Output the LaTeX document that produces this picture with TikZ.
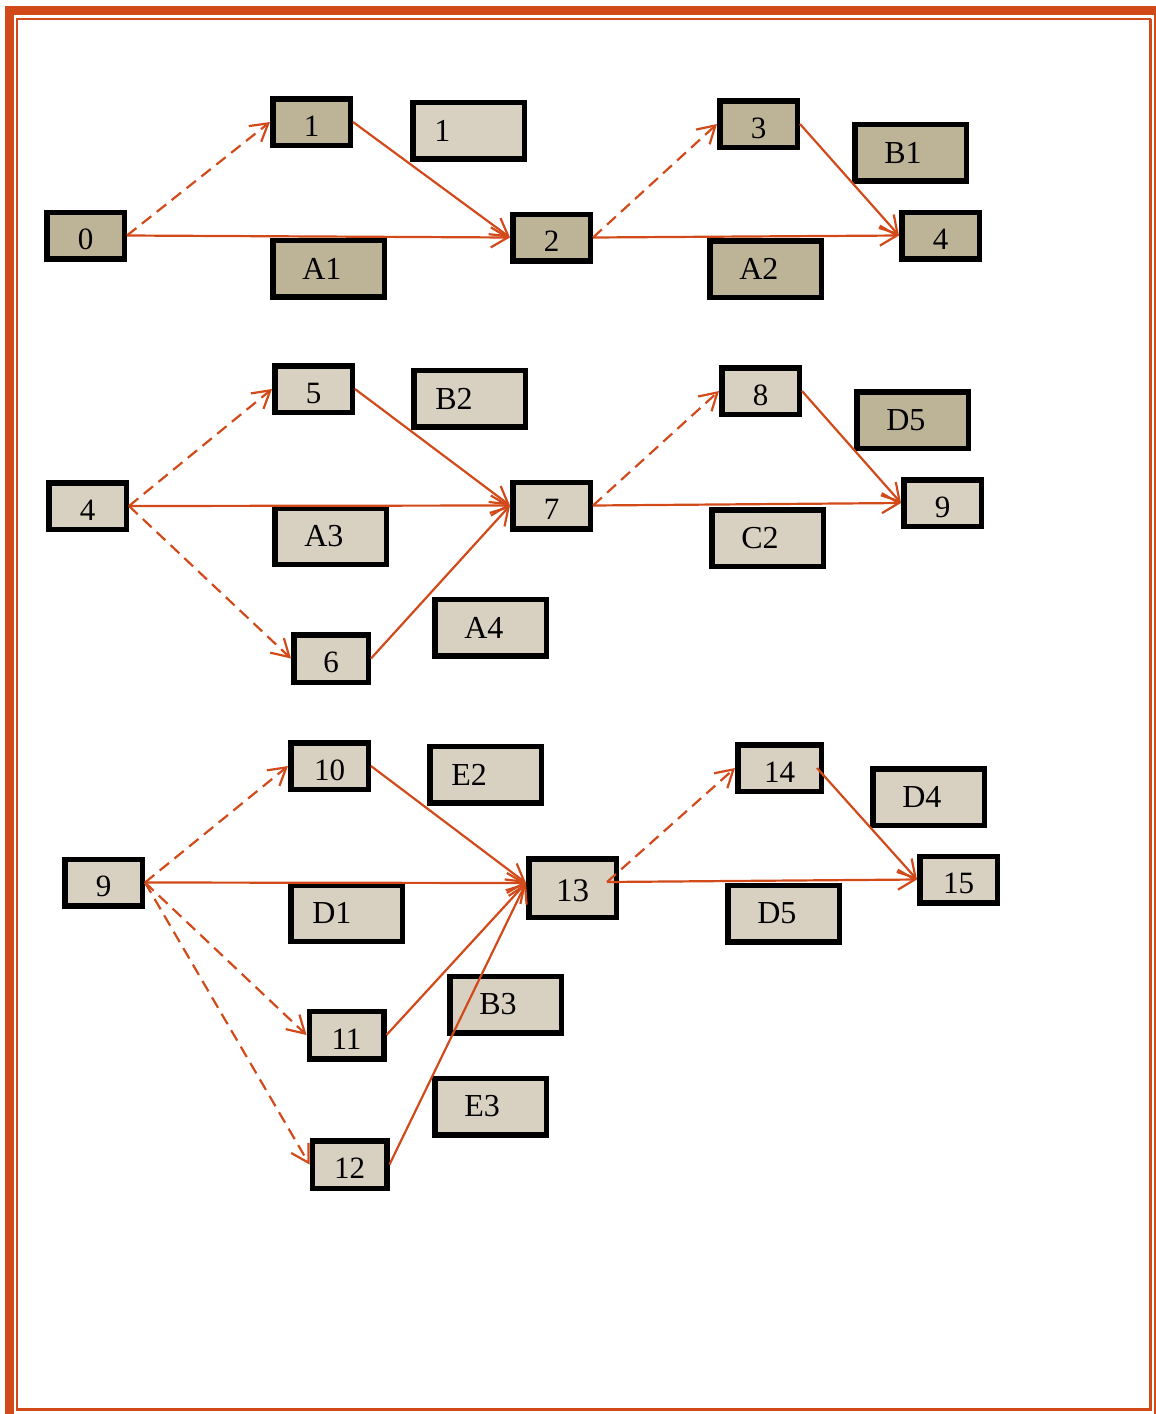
\documentclass[tikz,border=0pt]{standalone}
\usepackage{fontspec}
\setmainfont{Liberation Serif}
\usetikzlibrary{arrows.meta, positioning}
\definecolor{rust}{RGB}{210,74,26}
\definecolor{tan}{RGB}{189,179,151}
\definecolor{sand}{RGB}{216,208,192}
\tikzset{
  ev/.style={draw=black, line width=5.5pt, minimum width=77.5pt, minimum height=46.5pt,
    inner sep=0pt, font=\fontsize{31}{33}\selectfont, text height=28pt, text depth=0pt},
  evs/.style={ev, minimum width=74.5pt, minimum height=47.5pt},
  evb/.style={ev, minimum width=87.5pt, minimum height=58.5pt, font=\fontsize{33}{35}\selectfont, text height=27pt},
  lab/.style={draw=black, line width=5.5pt, minimum width=111.5pt, minimum height=56.5pt,
    inner ysep=0pt, inner xsep=29.5pt, text width=52.5pt, align=left, font=\fontsize{32}{34}\selectfont},
  labn/.style={lab, inner xsep=21.5pt, text width=68.5pt},
  act/.style={rust, line width=2.2pt, -{Straight Barb[length=17pt,width=20pt]}},
  dum/.style={act, dash pattern=on 12pt off 7pt}}

\begin{document}
\begin{tikzpicture}[x=1pt,y=-1pt]
  \useasboundingbox (0,0) rectangle (1156,1414);
  % page border
  \draw[rust, line width=9pt] (9,1414) -- (9,10) -- (1156,10);
  \draw[rust, line width=2pt] (1155,10) -- (1155,1414);
  \draw[rust, line width=2pt] (16.5,1409.5) -- (16.5,18.5) -- (1150.5,18.5);
  \draw[rust, line width=3.5pt] (1150.5,18.5) -- (1150.5,1409.5) -- (15.5,1409.5);

  % first network
  \node[ev, fill=tan] (n0) at (85.5,235.5) {0};
  \node[ev, fill=tan] (n1) at (311.5,122) {1};
  \node[ev, fill=tan] (n2) at (551.5,237.5) {2};
  \node[ev, fill=tan] (n3) at (758.5,124) {3};
  \node[ev, fill=tan] (n4) at (940.5,235.5) {4};
  \node[labn, fill=sand] (l1) at (468.5,130.5) {1};
  \node[lab, fill=tan] (b1) at (910.5,152.5) {B1};
  \node[lab, fill=tan] (a1) at (328.5,268.5) {A1};
  \node[lab, fill=tan] (a2) at (765.5,269) {A2};
  \draw[dum] (n0.east) -- (n1.west);
  \draw[act] (n0.east) -- (n2.west);
  \draw[act] (n1.east) -- (n2.west);
  \draw[dum] (n2.east) -- (n3.west);
  \draw[act] (n2.east) -- (n4.west);
  \draw[act] (n3.east) -- (n4.west);

  % second network
  \node[ev, fill=sand] (m4) at (87.5,506) {4};
  \node[ev, fill=sand] (m5) at (313.5,389) {5};
  \node[evs, fill=sand] (m6) at (331,658.5) {6};
  \node[ev, fill=sand] (m7) at (551.5,505.5) {7};
  \node[ev, fill=sand] (m8) at (760.5,391) {8};
  \node[ev, fill=sand] (m9) at (942.5,503) {9};
  \node[labn, fill=sand] (b2) at (469.5,398.5) {B2};
  \node[lab, fill=tan] (d5) at (912.5,420) {D5};
  \node[lab, fill=sand] (a3) at (330.5,536) {A3};
  \node[lab, fill=sand] (c2) at (767.5,538) {C2};
  \node[lab, fill=sand] (a4) at (490.5,627.5) {A4};
  \draw[dum] (m4.east) -- (m5.west);
  \draw[act] (m4.east) -- (m7.west);
  \draw[dum] (m4.east) -- (m6.west);
  \draw[act] (m5.east) -- (m7.west);
  \draw[act] (m6.east) -- (m7.west);
  \draw[dum] (m7.east) -- (m8.west);
  \draw[act] (m7.east) -- (m9.west);
  \draw[act] (m8.east) -- (m9.west);

  % third network
  \node[ev, fill=sand] (k9) at (103.5,882.5) {9};
  \node[ev, fill=sand] (k10) at (329.5,766) {10};
  \node[evs, fill=sand] (k11) at (346.5,1035) {11};
  \node[evs, fill=sand] (k12) at (349.5,1164.5) {12};
  \node[evb, fill=sand] (k13) at (572.5,888) {13};
  \node[ev, fill=sand, minimum width=83.5pt] (k14) at (779.5,768) {14};
  \node[ev, fill=sand] (k15) at (958.5,879.5) {15};
  \node[labn, fill=sand] (e2) at (485.5,774.5) {E2};
  \node[labn, fill=sand] (d1) at (346.5,913) {D1};
  \node[lab, fill=sand] (b3) at (505.5,1004.5) {B3};
  \node[lab, fill=sand] (e3) at (490.5,1106.5) {E3};
  \node[lab, fill=sand] (d4) at (928.5,797) {D4};
  \node[lab, fill=sand] (d5b) at (783.5,913.5) {D5};
  \coordinate (in13) at ([yshift=5pt]k13.west);
  \coordinate (out13) at ([xshift=-12pt,yshift=6pt]k13.east);
  \draw[dum] (k9.east) -- (k10.west);
  \draw[act] (k9.east) -- (in13);
  \draw[dum] (k9.east) -- (k11.west);
  \draw[dum] (k9.east) -- (k12.west);
  \draw[act] (k10.east) -- (in13);
  \draw[act] (k11.east) -- (in13);
  \draw[act] (k12.east) -- (in13);
  \draw[dum] (out13) -- (k14.west);
  \draw[act] (out13) -- (k15.west);
  \draw[act] ([xshift=-7pt]k14.east) -- (k15.west);
\end{tikzpicture}
\end{document}
